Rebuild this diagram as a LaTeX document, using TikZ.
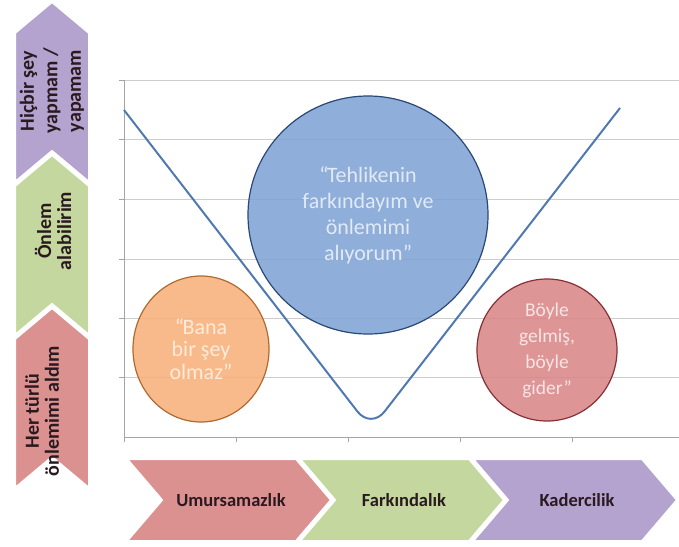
\documentclass[tikz,border=0pt]{standalone}
\usepackage{fontspec}
\setmainfont{Carlito}
\usetikzlibrary{shapes.geometric}
\definecolor{gridgray}{RGB}{205,205,205}
\definecolor{axisgray}{RGB}{165,165,165}
\definecolor{vblue}{RGB}{79,121,176}
\definecolor{bluefill}{RGB}{127,163,212}
\definecolor{blueedge}{RGB}{42,72,118}
\definecolor{bluetext}{RGB}{225,234,246}
\definecolor{orangefill}{RGB}{247,176,122}
\definecolor{orangeedge}{RGB}{176,106,48}
\definecolor{orangetext}{RGB}{253,235,218}
\definecolor{redfill}{RGB}{216,134,136}
\definecolor{rededge}{RGB}{135,48,54}
\definecolor{redtext}{RGB}{248,228,228}
\definecolor{chevred}{RGB}{219,145,144}
\definecolor{chevgreen}{RGB}{196,215,158}
\definecolor{chevpurple}{RGB}{180,163,207}
\definecolor{labeldark}{RGB}{42,26,32}

\begin{document}
\begin{tikzpicture}[x=1pt, y=-1pt]
\tikzstyle{bubble}=[ellipse, line width=1.2pt, fill opacity=0.88, text opacity=1, align=center, inner sep=0pt]
\tikzstyle{chevron}=[draw=white, line width=2pt, line join=round]
\tikzstyle{steplbl}=[font=\bfseries\fontsize{18.5}{22}\selectfont, text=labeldark, align=center]
\tikzstyle{sidelbl}=[text=labeldark, align=center, rotate=90]
\useasboundingbox (0,0) rectangle (679,546);
% chart grid and axes
\foreach \y in {80,139,199,259,318,377}{\draw[gridgray] (124,\y) -- (679,\y); \draw[axisgray] (119,\y) -- (124,\y);}
\draw[axisgray] (124,80) -- (124,437) -- (679,437);
\foreach \x in {124,236,348,460,572}{\draw[axisgray] (\x,437) -- (\x,442);}
% the V curve
\coordinate (vleft) at (124,110);
\coordinate (vlow) at (371,429);
\coordinate (vright) at (620,108);
\draw[vblue, line width=2pt, rounded corners=22pt] (vleft) -- (vlow) -- (vright);
% bubbles
\node[bubble, fill=orangefill, draw=orangeedge, text=orangetext, minimum width=136pt, minimum height=146pt, font=\fontsize{22}{22.5}\selectfont] (careless) at (201,349) {“\kern-1.5pt Bana\\bir şey\\olmaz”};
\node[bubble, fill=bluefill, draw=blueedge, text=bluetext, minimum width=240pt, minimum height=238pt, font=\fontsize{22}{26}\selectfont] (aware) at (368,215) {“\kern-1.5pt Tehlikenin\\farkındayım ve\\önlemimi\\alıyorum”};
\node[bubble, fill=redfill, draw=rededge, text=redtext, minimum width=140pt, minimum height=142pt, font=\fontsize{19.5}{26}\selectfont] (fate) at (547,350) {Böyle\\gelmiş,\\böyle\\gider”};
% bottom chevrons
\foreach \x/\fillc/\nm/\txt in {127/chevred/umur/Umursamazlık, 300/chevgreen/fark/Farkındalık, 473/chevpurple/kader/Kadercilik}{
  \draw[chevron, fill=\fillc] (\x,459) -- ({\x+169},459) -- ({\x+204},500) -- ({\x+169},541) -- (\x,541) -- ({\x+35},500) -- cycle;
  \node[steplbl] (\nm) at ({\x+104},500) {\txt};
}
% left chevrons
\foreach \y/\fillc in {2/chevpurple,155/chevgreen,308/chevred}{
  \draw[chevron, fill=\fillc] (15,{\y+31}) -- (52,\y) -- (89,{\y+31}) -- (89,{\y+180}) -- (52,{\y+149}) -- (15,{\y+180}) -- cycle;
}
\node[sidelbl, font=\bfseries\fontsize{20}{23.5}\selectfont] (nothing) at (52,91) {Hiçbir şey\\yapmam /\\yapamam};
\node[sidelbl, font=\bfseries\fontsize{20}{20}\selectfont] (canact) at (53,231) {Önlem\\alabilirim};
\node[sidelbl, font=\bfseries\fontsize{20}{20}\selectfont] (alldone) at (42,411) {Her türlü\\önlemimi aldım};
\end{tikzpicture}
\end{document}
